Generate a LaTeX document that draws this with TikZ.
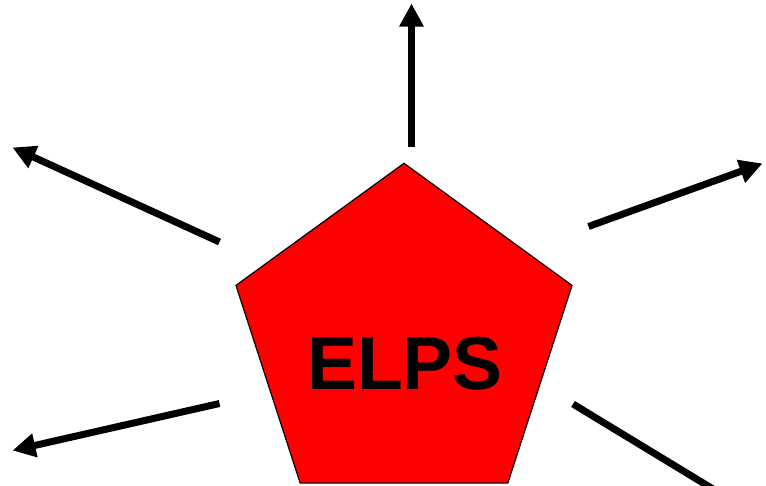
\documentclass[tikz,border=0pt]{standalone}
\usepackage{fontspec}
\setmainfont{Liberation Sans}
\usetikzlibrary{arrows.meta,shapes.geometric}
\tikzset{
  ray/.style={line width=7pt, -{Triangle[length=23pt,width=23pt]}},
  plainray/.style={line width=7pt},
  penta/.style={regular polygon, regular polygon sides=5, minimum size=353.4pt,
    inner sep=0pt, outer sep=0pt, fill={rgb,255:red,255;green,0;blue,0}, draw=black, line width=1.2pt}
}
\begin{document}
\begin{tikzpicture}[x=1pt,y=-1pt]
  \useasboundingbox (0,0) rectangle (766,485);
  \clip (0,0) rectangle (766,485);
  % central pentagon and its label
  \node[penta] (core) at (404,340) {};
  \node[anchor=base, inner sep=0pt, font=\fontsize{75}{75}\selectfont\bfseries] (label) at (405,389.3) {ELPS};
  % ray ends
  \coordinate (nS) at (411.5,147);
  \coordinate (nE) at (411.5,3.5);
  \coordinate (ulS) at (219.5,242);
  \coordinate (ulE) at (12.5,147.5);
  \coordinate (urS) at (588.5,226.5);
  \coordinate (urE) at (762.5,163.5);
  \coordinate (llS) at (219.5,403.5);
  \coordinate (llE) at (12.5,450.5);
  \coordinate (lrS) at (573,404);
  \coordinate (lrE) at (713,489);
  % rays
  \draw[ray] (nS) -- (nE);
  \draw[ray] (ulS) -- (ulE);
  \draw[ray] (urS) -- (urE);
  \draw[ray] (llS) -- (llE);
  \draw[plainray] (lrS) -- (lrE);
\end{tikzpicture}
\end{document}
